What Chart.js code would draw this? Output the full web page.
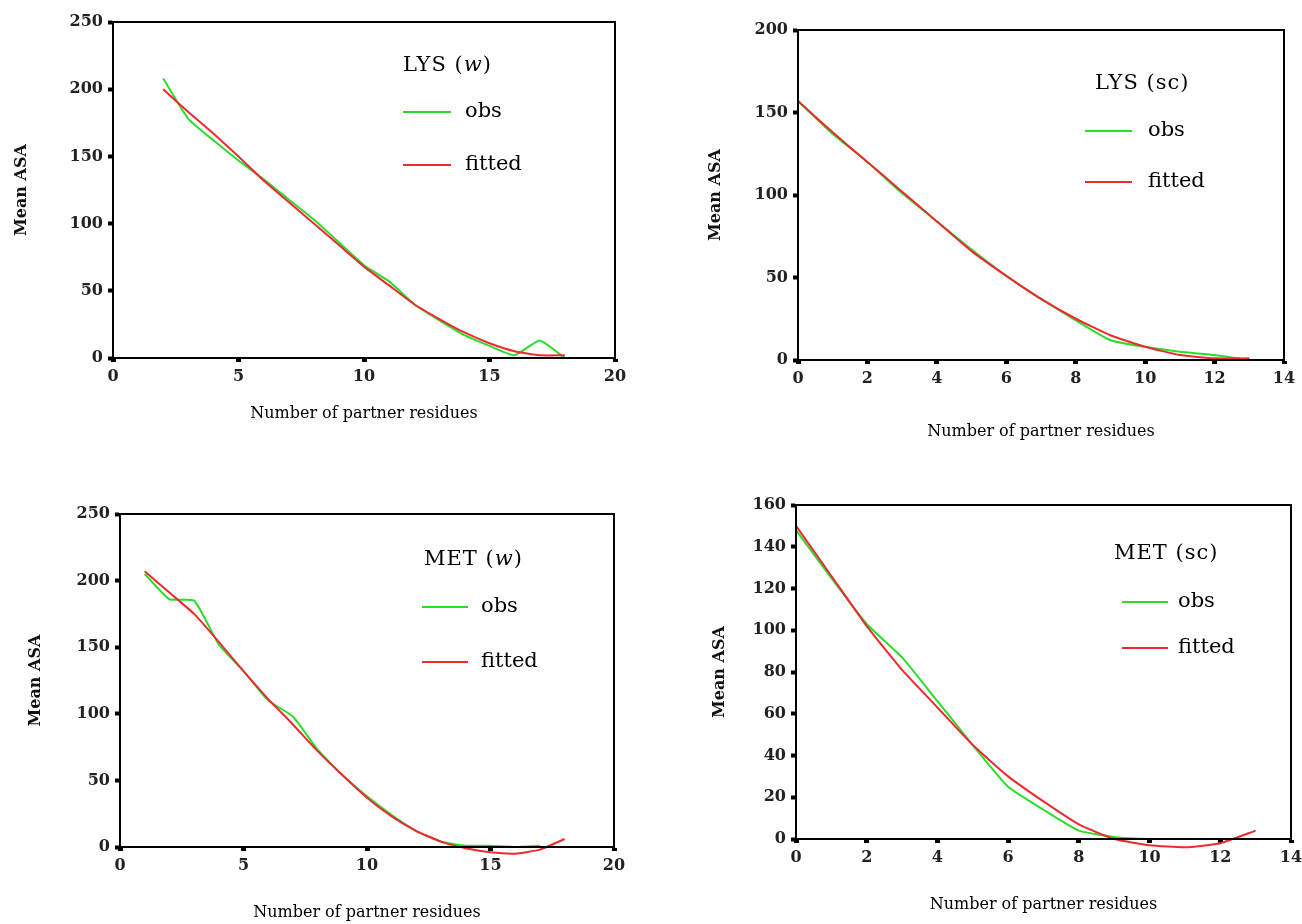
<!DOCTYPE html>
<html>
<head>
<meta charset="utf-8">
<script src="https://cdn.jsdelivr.net/npm/chart.js@4.4.1/dist/chart.umd.min.js"></script>
<style>
  html, body { margin:0; padding:0; background:#fff; }
  #page { position:relative; width:1302px; height:924px; overflow:hidden; font-family:'DejaVu Serif', serif; }
  .panel { position:absolute; width:651px; height:462px; }
  .lg-title { position:absolute; font-size:21px; line-height:24px; color:#000; white-space:nowrap; letter-spacing:1px; }
  .lg-line { position:absolute; height:0; border-top:2px solid; }
  .lg-text { position:absolute; font-size:21px; line-height:24px; color:#000; white-space:nowrap; }
</style>
</head>
<body>
<div id="page"></div>
<script>
// ── DATA ──────────────────────────────────────
const lysW_x      = [2,3,4,5,6,7,8,9,10,11,12,13,14,15,16,17,18];
const lysW_obs    = [208,178,162,147,133,118,103,86,69,57,40,28,17,9,2,13,0];
const lysW_fit    = [200,183,167,150,132,116,100,84,68,54,40,29,19,11,5,2,2];

const lysSc_x     = [0,1,2,3,4,5,6,7,8,9,10,11,12,13];
const lysSc_obs   = [157,137,120,101,84,67,51,37,24,12,8,5,3,0];
const lysSc_fit   = [157,138,120,102,84,66,51,37,25,15,8,3,1,1];

const metW_x      = [1,2,3,4,5,6,7,8,9,10,11,12,13,14,15,16,17,18];
const metW_obs    = [205,186,185,152,132,110,98,73,54,38,24,12,4,1,1,0,1,null];
const metW_fit    = [207,191,175,154,132,111,92,72,54,37,23,12,4,-1,-4,-5,-2,6];

const metSc_x     = [0,1,2,3,4,5,6,7,8,9,10,11,12,13];
const metSc_obs   = [148,125,103,87,66,45,25,14,4,1,0,0,0,null];
const metSc_fit   = [150,126,102,81,63,45,30,18,7,0,-3,-4,-2,4];

const yTicksW  = { max:250, step:50 };
const yTicksLs = { max:200, step:50 };
const yTicksMs = { max:160, step:20 };
const xTicksW  = { max:20, step:5 };
const xTicksSc = { max:14, step:2 };

const X_TITLE = 'Number of partner residues';
const Y_TITLE = 'Mean ASA';
const OBS_COLOR = '#2bdd2b';
const FIT_COLOR = '#ee2a30';

// ── PANELS (layout only) ──────────────────────
const panels = [
  { name:'LYS (w)',  xs:lysW_x,  obs:lysW_obs,  fit:lysW_fit,  yt:yTicksW,  xt:xTicksW,
    cx:0,   cy:0,   L:113, R:615,  T:22,  B:358, yTitleX:22,  xTitleY:414,
    lg:{ tx:403, ty:64, lx:403, lw:48, ly1:112, ly2:165, txt:465 } },
  { name:'LYS (sc)', xs:lysSc_x, obs:lysSc_obs, fit:lysSc_fit, yt:yTicksLs, xt:xTicksSc,
    cx:651, cy:0,   L:798, R:1284, T:30,  B:360, yTitleX:716, xTitleY:432,
    lg:{ tx:1095, ty:82, lx:1085, lw:47, ly1:131, ly2:182, txt:1148 } },
  { name:'MET (w)',  xs:metW_x,  obs:metW_obs,  fit:metW_fit,  yt:yTicksW,  xt:xTicksW,
    cx:0,   cy:462, L:120, R:614,  T:514, B:847, yTitleX:36,  xTitleY:913,
    lg:{ tx:424, ty:558, lx:422, lw:46, ly1:607, ly2:662, txt:481 } },
  { name:'MET (sc)', xs:metSc_x, obs:metSc_obs, fit:metSc_fit, yt:yTicksMs, xt:xTicksSc,
    cx:651, cy:462, L:796, R:1291, T:505, B:839, yTitleX:720, xTitleY:905,
    lg:{ tx:1114, ty:552, lx:1122, lw:46, ly1:602, ly2:648, txt:1178 } },
];

const TICK_FONT  = { family:"'DejaVu Serif', serif", size:16, weight:'bold' };
const XT_FONT    = { family:"'DejaVu Serif', serif", size:16 };
const YT_FONT    = { family:"'DejaVu Serif', serif", size:16, weight:'bold' };
const LH = 19; // title line height

// ── FRAME PLUGIN ──────────────────────────────
const framePlugin = {
  id:'frame',
  afterDatasetsDraw(chart) {
    const a = chart.chartArea, ctx = chart.ctx;
    ctx.save();
    ctx.strokeStyle = '#000';
    ctx.lineWidth = 2;
    ctx.strokeRect(a.left, a.top, a.right - a.left, a.bottom - a.top);
    ctx.restore();
  }
};

function pts(xs, ys) {
  return xs.map((x,i) => ({ x, y: ys[i] })).filter(p => p.y !== null);
}

function buildPanel(p) {
  const page = document.getElementById('page');
  const box = document.createElement('div');
  box.className = 'panel';
  box.style.left = p.cx + 'px';
  box.style.top  = p.cy + 'px';
  const canvas = document.createElement('canvas');
  canvas.width = 651; canvas.height = 462;
  box.appendChild(canvas);
  page.appendChild(box);

  const xBottom = p.xTitleY + LH/2 + 4;
  new Chart(canvas, {
    type:'line',
    data:{
      datasets:[
        { label:'obs',    data:pts(p.xs,p.obs), borderColor:OBS_COLOR, borderWidth:2, pointRadius:0, tension:0.15, clip:false, order:2 },
        { label:'fitted', data:pts(p.xs,p.fit), borderColor:FIT_COLOR, borderWidth:2, pointRadius:0, tension:0.15, clip:false, order:1 },
      ]
    },
    options:{
      responsive:false, animation:false, devicePixelRatio:1,
      layout:{ padding:{ left:0, top:p.T - p.cy, right:(p.cx + 651) - p.R, bottom:(p.cy + 462) - xBottom } },
      plugins:{ legend:{ display:false }, tooltip:{ enabled:false } },
      scales:{
        x:{
          type:'linear', min:0, max:p.xt.max,
          ticks:{ stepSize:p.xt.step, color:'#222', font:TICK_FONT, padding:5, maxRotation:0 },
          grid:{ drawOnChartArea:false, color:'#000', tickLength:4, tickWidth:5 },
          border:{ color:'#000', width:2 },
          title:{ display:true, text:X_TITLE, color:'#000', font:XT_FONT, padding:{ top:4, bottom:4 } },
          afterFit: s => { s.height = xBottom - p.B; s.paddingLeft = 0; s.paddingRight = 0; }
        },
        y:{
          min:0, max:p.yt.max,
          ticks:{ stepSize:p.yt.step, color:'#222', font:TICK_FONT, padding:5 },
          grid:{ drawOnChartArea:false, color:'#000', tickLength:5, tickWidth:4 },
          border:{ color:'#000', width:2 },
          title:{ display:true, text:Y_TITLE, color:'#111', font:YT_FONT, padding:{ top:p.yTitleX - p.cx - LH/2, bottom:0 } },
          afterFit: s => { s.width = p.L - p.cx; }
        }
      }
    },
    plugins:[framePlugin]
  });

  // legend overlay
  const g = p.lg;
  const add = (cls, css, text) => {
    const d = document.createElement('div');
    d.className = cls;
    Object.assign(d.style, css);
    if (text) d.innerHTML = text;
    page.appendChild(d);
  };
  const [res, kind] = p.name.split(' ');
  add('lg-title', { left:g.tx+'px', top:(g.ty-12)+'px' }, res + ' ' + (kind === '(w)' ? '(<i>w</i>)' : kind));
  add('lg-line', { left:g.lx+'px', top:(g.ly1-1)+'px', width:g.lw+'px', borderColor:OBS_COLOR });
  add('lg-text', { left:g.txt+'px', top:(g.ly1-14)+'px' }, 'obs');
  add('lg-line', { left:g.lx+'px', top:(g.ly2-1)+'px', width:g.lw+'px', borderColor:FIT_COLOR });
  add('lg-text', { left:g.txt+'px', top:(g.ly2-14)+'px' }, 'fitted');
}

panels.forEach(buildPanel);
</script>
</body>
</html>
